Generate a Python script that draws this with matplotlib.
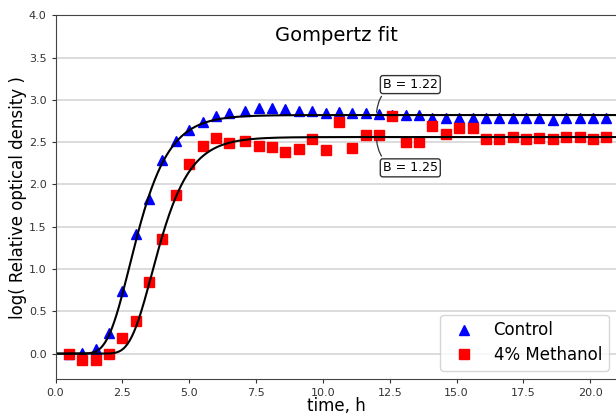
"""Gompertz fit of log relative optical density: control vs 4% methanol."""
import matplotlib
matplotlib.use('Agg')
import matplotlib.pyplot as plt
import numpy as np

# sampling times, h
time_h = [0.5, 1.0, 1.5, 2.0, 2.5, 3.0, 3.5, 4.0, 4.5, 5.0, 5.5, 6.0, 6.5,
          7.1, 7.6, 8.1, 8.6, 9.1, 9.6, 10.1, 10.6, 11.1, 11.6, 12.1, 12.6,
          13.1, 13.6, 14.1, 14.6, 15.1, 15.6, 16.1, 16.6, 17.1, 17.6, 18.1,
          18.6, 19.1, 19.6, 20.1, 20.6]

control = [0.0, 0.01, 0.05, 0.24, 0.74, 1.42, 1.83, 2.29, 2.51, 2.645, 2.74,
           2.81, 2.84, 2.865, 2.90, 2.90, 2.89, 2.87, 2.87, 2.85, 2.86, 2.85,
           2.84, 2.83, 2.82, 2.82, 2.82, 2.79, 2.79, 2.79, 2.78, 2.78, 2.79,
           2.79, 2.79, 2.78, 2.76, 2.78, 2.78, 2.78, 2.79]

methanol = [0.0, -0.07, -0.07, 0.0, 0.18, 0.38, 0.85, 1.35, 1.87, 2.24, 2.45,
            2.545, 2.49, 2.51, 2.46, 2.445, 2.38, 2.415, 2.535, 2.41, 2.74,
            2.435, 2.58, 2.58, 2.81, 2.5, 2.5, 2.69, 2.6, 2.67, 2.665, 2.54,
            2.54, 2.555, 2.54, 2.545, 2.54, 2.555, 2.555, 2.54, 2.565]

# Gompertz parameters (asymptote A, rate B, inflection time M)
control_fit = dict(A=2.82, B=1.22, M=2.77)
methanol_fit = dict(A=2.56, B=1.25, M=3.60)
annot_t = 12.0


def gompertz(t, A, B, M):
    return A * np.exp(-np.exp(-B * (np.asarray(t) - M)))


fig = plt.figure(figsize=(6.16, 4.16), dpi=100)
ax = fig.add_axes([0.0901, 0.0889, 0.9115, 0.8745])

ax.plot(time_h, control, linestyle='', marker='^', color='#0000ff',
        markersize=7, label='Control')
ax.plot(time_h, methanol, linestyle='', marker='s', color='#ff0000',
        markersize=6.5, label='4% Methanol')

tt = np.linspace(0, 21, 500)
ax.plot(tt, gompertz(tt, **control_fit), color='black', lw=1.5)
ax.plot(tt, gompertz(tt, **methanol_fit), color='black', lw=1.5)

ax.annotate(f"B = {control_fit['B']:.2f}",
            xy=(annot_t, gompertz(annot_t, **control_fit)), xytext=(13.27, 3.18),
            ha='center', va='center', fontsize=9,
            bbox=dict(boxstyle='round,pad=0.2', fc='white', ec='#333333', lw=1),
            arrowprops=dict(arrowstyle='-', color='#333333', lw=0.9,
                            connectionstyle='arc3,rad=0.5'))
ax.annotate(f"B = {methanol_fit['B']:.2f}",
            xy=(annot_t, gompertz(annot_t, **methanol_fit)), xytext=(13.27, 2.196),
            ha='center', va='center', fontsize=9,
            bbox=dict(boxstyle='round,pad=0.2', fc='white', ec='#333333', lw=1),
            arrowprops=dict(arrowstyle='-', color='#333333', lw=0.9,
                            connectionstyle='arc3,rad=-0.5'))

ax.text(0.5, 0.945, 'Gompertz fit', transform=ax.transAxes,
        ha='center', va='center', fontsize=14)

ax.set_xlim(0, 21.0)
ax.set_ylim(-0.3, 4.0)
ax.set_xticks(np.arange(0, 20.1, 2.5))
ax.set_yticks(np.arange(0, 4.01, 0.5))
ax.tick_params(labelsize=8, length=3, colors='#333333')
ax.grid(axis='y', color='#d9d9d9', lw=1.3)
ax.set_axisbelow(True)
for s in ax.spines.values():
    s.set_color('#444444')
ax.set_xlabel('time, h', fontsize=12, va='center')
ax.xaxis.set_label_coords(0.5, -0.075)
ax.set_ylabel('log( Relative optical density )', fontsize=12, va='center')
ax.yaxis.set_label_coords(-0.067, 0.5)
ax.legend(loc='lower right', fontsize=12, labelspacing=0.4)

fig.savefig('out.png', dpi=100)
